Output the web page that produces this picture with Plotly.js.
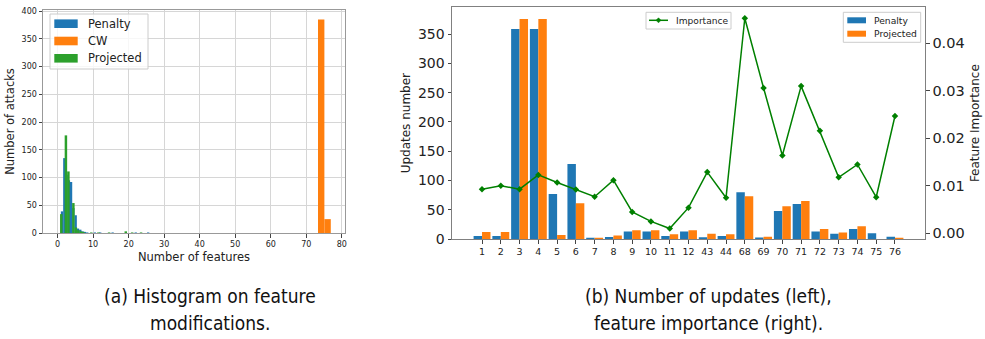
<!DOCTYPE html>
<html>
<head>
<meta charset="utf-8">
<script src="https://cdn.plot.ly/plotly-3.0.1.min.js"></script>
<style>html,body{margin:0;padding:0;background:#fff;}#chart{width:985px;height:339px;}</style>
</head>
<body>
<div id="chart"></div>
<script>
// ---- (a) histogram data: bin centres and counts ----
var penaltyBins   = [1.25, 1.9, 2.55, 3.2, 3.8, 4.45, 5.1, 5.75, 6.4, 7.05, 7.7, 8.35, 10.5, 12.0, 15.5, 22.0, 25.5];
var penaltyCounts = [39, 135, 105, 95, 92, 45, 32, 8, 6, 3, 2, 1, 1, 1, 1, 1, 1];
var cwBins        = [74.2, 76.0];
var cwCounts      = [385, 25];
var projectedBins   = [1.05, 2.35, 3.05, 4.45, 5.15, 5.85, 6.55, 7.25, 9.5, 11.5, 14.5, 19.2, 21.0, 23.5];
var projectedCounts = [34, 176, 111, 54, 10, 5, 3, 2, 1, 1, 1, 3, 1, 1];
var histSeries = ['Penalty', 'CW', 'Projected'];

// ---- (b) updates per feature and feature importance ----
var features = ["1","2","3","4","5","6","7","8","9","10","11","12","43","44","68","69","70","71","72","73","74","75","76"];
var penaltyUpdates   = [5, 5, 359, 359, 77, 128, 2, 3.5, 13, 13, 5, 13, 3, 5, 80, 2.5, 48, 60, 13, 9, 17, 10, 4];
var projectedUpdates = [12, 12, 376, 376, 7, 61, 2, 6, 15, 15, 8, 15, 9, 8, 73, 4, 56, 65, 17, 11, 22, 0, 2];
var importance = [0.0093, 0.0100, 0.0093, 0.0123, 0.0107, 0.0092, 0.0077, 0.0112, 0.0045, 0.0025, 0.0010, 0.0054,
                  0.0129, 0.0075, 0.0453, 0.0306, 0.0164, 0.0310, 0.0216, 0.0118, 0.0145, 0.0076, 0.0247];
var barSeries = ['Penalty', 'Projected'];
var lineSeries = 'Importance';

var BLUE = '#1f77b4', ORANGE = '#ff7f0e', GREEN = '#2ca02c', LGREEN = '#008000';
var F = 'DejaVu Sans, sans-serif';
var CAP = 'Liberation Sans Narrow, DejaVu Sans Condensed, sans-serif';

var traces = [
  {type:'bar', name:histSeries[0], x:penaltyBins, y:penaltyCounts, width:0.65, marker:{color:BLUE, line:{width:0}},
   xaxis:'x', yaxis:'y', showlegend:false, opacity:1},
  {type:'bar', name:histSeries[1], x:cwBins, y:cwCounts, width:1.8, marker:{color:ORANGE, line:{width:0}},
   xaxis:'x', yaxis:'y', showlegend:false, opacity:1},
  {type:'bar', name:histSeries[2], x:projectedBins, y:projectedCounts, width:0.7, marker:{color:GREEN, line:{width:0}},
   xaxis:'x', yaxis:'y', showlegend:false, opacity:1},

  {type:'bar', name:barSeries[0], x:features, y:penaltyUpdates, width:0.45, offset:-0.45,
   marker:{color:BLUE, line:{width:0}}, xaxis:'x2', yaxis:'y2', showlegend:false, opacity:1},
  {type:'bar', name:barSeries[1], x:features, y:projectedUpdates, width:0.45, offset:0,
   marker:{color:ORANGE, line:{width:0}}, xaxis:'x2', yaxis:'y2', showlegend:false, opacity:1},
  {type:'scatter', mode:'lines+markers', name:lineSeries, x:features, y:importance,
   line:{color:LGREEN, width:1.5}, marker:{symbol:'diamond', size:5, color:LGREEN},
   xaxis:'x2', yaxis:'y3', showlegend:false}
];

var W = 985, H = 339;
function px(v){ return v / W; }
function py(v){ return (H - v) / H; }

// ---- hand-drawn legends (matplotlib style) ----
var shapes = [], annotations = [];
function box(x0, y0, x1, y1){
  shapes.push({type:'rect', xref:'paper', yref:'paper', x0:px(x0), x1:px(x1), y0:py(y1), y1:py(y0),
               fillcolor:'rgba(255,255,255,0.8)', line:{color:'#cccccc', width:1}, layer:'above'});
}
function patch(x0, y0, x1, y1, color){
  shapes.push({type:'rect', xref:'paper', yref:'paper', x0:px(x0), x1:px(x1), y0:py(y1), y1:py(y0),
               fillcolor:color, line:{width:0}, layer:'above'});
}
function label(x, y, text, size){
  annotations.push({text:text, xref:'paper', yref:'paper', x:px(x), y:py(y), showarrow:false,
                    xanchor:'left', yanchor:'middle', font:{size:size, family:F, color:'#222'}});
}
// legend (a)
box(50, 14, 148, 69);
var histColors = [BLUE, ORANGE, GREEN];
for (var i = 0; i < histSeries.length; i++) {
  var cy = 23.7 + i * 17.3;
  patch(54.3, cy - 4.3, 77.7, cy + 4.3, histColors[i]);
  label(86, cy, histSeries[i], 11.5);
}
// legend (b) line
box(646, 12.3, 731, 29);
shapes.push({type:'line', xref:'paper', yref:'paper', x0:px(649), x1:px(668), y0:py(20.3), y1:py(20.3),
             line:{color:LGREEN, width:1.5}, layer:'above'});
shapes.push({type:'path', xref:'paper', yref:'paper', layer:'above', fillcolor:LGREEN, line:{color:LGREEN, width:0.5},
             path:'M'+px(658.5)+','+py(17.8)+' L'+px(661)+','+py(20.3)+' L'+px(658.5)+','+py(22.8)+' L'+px(656)+','+py(20.3)+' Z'});
label(674, 20.6, lineSeries, 9.1);
// legend (b) bars
box(843.3, 12.3, 920.7, 42.3);
var barColors = [BLUE, ORANGE];
for (var j = 0; j < barSeries.length; j++) {
  var cy2 = 20.3 + j * 13.4;
  patch(847.3, cy2 - 3, 866, cy2 + 3, barColors[j]);
  label(872, cy2, barSeries[j], 9.2);
}

// captions
function caption(x, y, text){
  annotations.push({text:text, xref:'paper', yref:'paper', x:px(x), y:py(y), showarrow:false,
                    xanchor:'center', yanchor:'middle', font:{size:19, family:CAP, color:'#111'}});
}
caption(210, 296, '(a) Histogram on feature');
caption(210, 323, 'modifications.');
caption(708, 296, '(b) Number of updates (left),');
caption(708, 323, 'feature importance (right).');

var layout = {
  width: W, height: H,
  margin: {l:0, r:0, t:0, b:0},
  paper_bgcolor:'#fff', plot_bgcolor:'#fff',
  barmode:'overlay',
  showlegend:false,
  font:{family:F, color:'#222'},
  xaxis:{domain:[px(43), px(345)], range:[-4.1, 80.9], tickvals:[0,10,20,30,40,50,60,70,80],
         showgrid:true, gridcolor:'#d6d6d6', gridwidth:1, zeroline:false,
         showline:true, mirror:true, linecolor:'#999', linewidth:1,
         ticks:'outside', ticklen:3.5, tickcolor:'#444', tickfont:{size:8, family:F, color:'#222'},
         title:{text:'Number of features', font:{size:11.5, family:F, color:'#222'}, standoff:4},
         anchor:'y'},
  yaxis:{domain:[py(233), py(10)], range:[0, 402], tickvals:[0,50,100,150,200,250,300,350,400],
         showgrid:true, gridcolor:'#d6d6d6', gridwidth:1, zeroline:false,
         showline:true, mirror:true, linecolor:'#999', linewidth:1,
         ticks:'outside', ticklen:3.5, tickcolor:'#444', tickfont:{size:8, family:F, color:'#222'},
         title:{text:'Number of attacks', font:{size:11.5, family:F, color:'#222'}, standoff:4},
         anchor:'x'},

  xaxis2:{domain:[px(452), px(925)], type:'category', range:[-1.6, 23.6],
          showgrid:false, zeroline:false, showline:true, mirror:true, linecolor:'#808080', linewidth:1,
          ticks:'outside', ticklen:3.5, tickcolor:'#444', tickfont:{size:9.5, family:F, color:'#222'},
          anchor:'y2'},
  yaxis2:{domain:[py(239), py(7.3)], range:[0, 396], tickvals:[0,50,100,150,200,250,300,350],
          showgrid:false, zeroline:false, showline:true, linecolor:'#808080', linewidth:1,
          ticks:'outside', ticklen:3.5, tickcolor:'#444', tickfont:{size:14, family:F, color:'#222'},
          title:{text:'Updates number', font:{size:12, family:F, color:'#222'}, standoff:4},
          anchor:'x2'},
  yaxis3:{domain:[py(239), py(7.3)], range:[-0.0012, 0.0476], tickvals:[0,0.01,0.02,0.03,0.04], tickformat:'.2f',
          overlaying:'y2', side:'right', showgrid:false, zeroline:false,
          showline:true, linecolor:'#808080', linewidth:1,
          ticks:'outside', ticklen:3.5, tickcolor:'#444', tickfont:{size:14.5, family:F, color:'#222'},
          title:{text:'Feature Importance', font:{size:12, family:F, color:'#222'}, standoff:6},
          anchor:'x2'},
  shapes: shapes,
  annotations: annotations
};

Plotly.newPlot('chart', traces, layout, {displayModeBar:false, staticPlot:true});
</script>
</body>
</html>
